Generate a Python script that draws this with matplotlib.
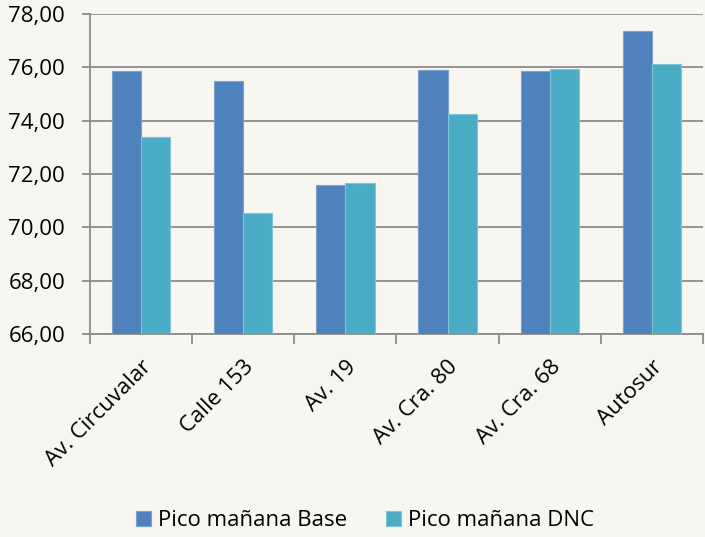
import matplotlib.pyplot as plt
import numpy as np

# data
categories = ["Av. Circuvalar", "Calle 153", "Av. 19", "Av. Cra. 80", "Av. Cra. 68", "Autosur"]
base = [75.87, 75.49, 71.58, 75.91, 75.85, 77.35]
dnc = [73.38, 70.54, 71.66, 74.24, 75.93, 76.11]
series_names = ["Pico mañana Base", "Pico mañana DNC"]

plt.rcParams['font.family'] = ['Open Sans', 'DejaVu Sans']
bg = '#f7f6f1'

fig = plt.figure(figsize=(7.05, 5.37), dpi=100, facecolor=bg)
ax = fig.add_axes([90/705, 1 - 334/537, 613/705, 320/537])
ax.set_facecolor(bg)

x = np.arange(len(categories))
w = 0.285
ax.bar(x - w/2, base, w, color='#4f81bd', edgecolor='#7da0cc', linewidth=0.8,
       label=series_names[0], zorder=3)
ax.bar(x + w/2, dnc, w, color='#4bacc6', edgecolor='#7ec4d6', linewidth=0.8,
       label=series_names[1], zorder=3)

ax.set_ylim(66, 78)
ax.set_xlim(-0.5, len(categories) - 0.5)
yt = np.arange(66, 79, 2)
ax.set_yticks(yt)
ax.set_yticklabels([f"{v:.2f}".replace('.', ',') for v in yt], fontsize=16)
ax.yaxis.grid(True, color='#8c8c8c', linewidth=1.3, zorder=0)

# category ticks sit between groups, labels at centres
ax.set_xticks(np.arange(-0.5, len(categories), 1.0))
ax.set_xticklabels([])
ax.set_xticks(x, minor=True)
ax.set_xticklabels(categories, minor=True, rotation=45, ha='right', rotation_mode='anchor',
                   fontsize=16)
ax.tick_params(axis='x', which='minor', length=0, pad=16)
ax.tick_params(axis='x', which='major', length=7, width=1.3, color='#8c8c8c')
ax.tick_params(axis='y', length=6, width=1.3, color='#8c8c8c', pad=12)

for s in ['top', 'right']:
    ax.spines[s].set_visible(False)
for s in ['left', 'bottom']:
    ax.spines[s].set_color('#8c8c8c')
    ax.spines[s].set_linewidth(1.3)

fig.legend(loc='center', bbox_to_anchor=(365/705, 16/537), ncol=2, frameon=False,
           fontsize=16, handlelength=0.68, handleheight=0.68, columnspacing=1.75,
           handletextpad=0.3)

fig.savefig('out.png', dpi=100, facecolor=bg)
